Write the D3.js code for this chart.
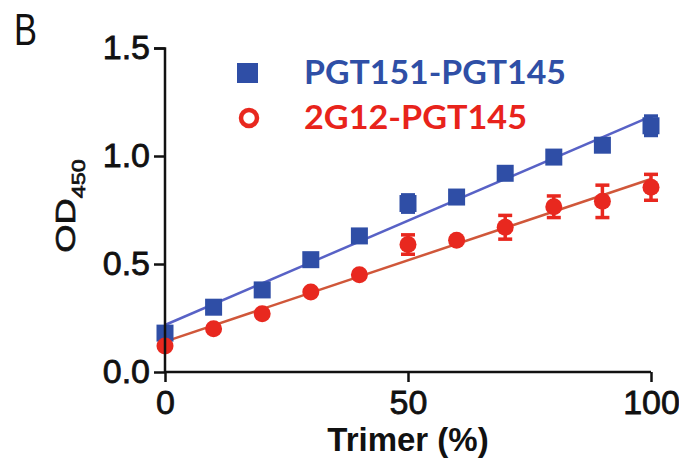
<!doctype html>
<html>
<head>
<meta charset="utf-8">
<style>
body { margin: 0; background: #fff; }
svg { font-family: "Liberation Sans", Arial, sans-serif; }
</style>
<script src="https://cdn.jsdelivr.net/npm/d3@7"></script>
</head>
<body>
<svg width="679" height="459"></svg>
<script>
// values
var trimer = [0, 10, 20, 30, 40, 50, 60, 70, 80, 90, 100];
var pgt151 = [0.18, 0.30, 0.38, 0.52, 0.63, 0.78, 0.81, 0.92, 0.995, 1.05, 1.14];
var pgt151Err = [0.01, 0.01, 0.01, 0.01, 0.01, 0.04, 0.01, 0.01, 0.01, 0.01, 0.045];
var g12 = [0.12, 0.20, 0.27, 0.37, 0.45, 0.59, 0.61, 0.67, 0.765, 0.79, 0.855];
var g12Err = [0.01, 0.01, 0.01, 0.01, 0.01, 0.045, 0.01, 0.055, 0.05, 0.075, 0.06];
var yTicks = [0, 0.5, 1.0, 1.5];
var xTicks = [0, 50, 100];
var seriesNames = ["PGT151-PGT145", "2G12-PGT145"];

var svg = d3.select("svg");

var x = d3.scaleLinear().domain([0, 100]).range([165, 651]);
var y = d3.scaleLinear().domain([0, 1.5]).range([372, 48]);

function fit(xs, ys) {
  var mx = d3.mean(xs), my = d3.mean(ys);
  var num = d3.sum(xs, function(v, i) { return (v - mx) * (ys[i] - my); });
  var den = d3.sum(xs, function(v) { return (v - mx) * (v - mx); });
  var b = num / den;
  return { a: my - b * mx, b: b };
}

var series = [
  { name: seriesNames[0], ys: pgt151, err: pgt151Err, mark: "#2f4ea6", line: "#5862c6", text: "#2f4fa6", shape: "square" },
  { name: seriesNames[1], ys: g12, err: g12Err, mark: "#e8281f", line: "#d0573a", text: "#e8231b", shape: "circle" }
];

// regression lines
series.forEach(function(s) {
  var f = fit(trimer, s.ys);
  svg.append("line")
    .attr("x1", x(0)).attr("y1", y(f.a))
    .attr("x2", x(100)).attr("y2", y(f.a + f.b * 100))
    .attr("stroke", s.line).attr("stroke-width", 2.5);
});

// error bars + markers
series.forEach(function(s) {
  var g = svg.append("g");
  var pts = trimer.map(function(t, i) { return { t: t, v: s.ys[i], e: s.err[i] }; });
  var eb = g.selectAll(".eb").data(pts).enter().append("g")
    .attr("stroke", s.mark).attr("stroke-width", 3.5);
  eb.append("line")
    .attr("x1", function(d) { return x(d.t); }).attr("x2", function(d) { return x(d.t); })
    .attr("y1", function(d) { return y(d.v - d.e); }).attr("y2", function(d) { return y(d.v + d.e); });
  [-1, 1].forEach(function(sg) {
    eb.append("line")
      .attr("x1", function(d) { return x(d.t) - 7; }).attr("x2", function(d) { return x(d.t) + 7; })
      .attr("y1", function(d) { return y(d.v + sg * d.e); }).attr("y2", function(d) { return y(d.v + sg * d.e); });
  });
  if (s.shape == "square") {
    g.selectAll("rect").data(pts).enter().append("rect")
      .attr("x", function(d) { return x(d.t) - 8.5; })
      .attr("y", function(d) { return y(d.v) - 8.5; })
      .attr("width", 17).attr("height", 17)
      .attr("fill", s.mark);
  } else {
    g.selectAll("circle").data(pts).enter().append("circle")
      .attr("cx", function(d) { return x(d.t); })
      .attr("cy", function(d) { return y(d.v); })
      .attr("r", 8.5)
      .attr("fill", s.mark);
  }
});

// axes
var yAxis = svg.append("g").attr("transform", "translate(165,0)")
  .call(d3.axisLeft(y).tickValues(yTicks).tickFormat(d3.format(".1f")).tickSize(11).tickPadding(4));
var xAxis = svg.append("g").attr("transform", "translate(0,372)")
  .call(d3.axisBottom(x).tickValues(xTicks).tickSize(10).tickPadding(8));
[yAxis, xAxis].forEach(function(a) {
  a.select(".domain").attr("stroke", "#111").attr("stroke-width", 2.5);
  a.selectAll(".tick line").attr("stroke", "#111").attr("stroke-width", 2.5);
  a.selectAll("text").attr("fill", "#111").attr("stroke", "#111").attr("stroke-width", 0.8)
    .style("font-size", "34px")
    .style("font-family", "'Liberation Sans', Arial, sans-serif");
});
yAxis.select(".domain").attr("d", "M-11,48.5H0V372");
xAxis.select(".domain").attr("d", "M165,0H651");

// axis titles
svg.append("text")
  .attr("x", 408).attr("y", 451)
  .attr("text-anchor", "middle")
  .style("font-size", "33px").style("font-weight", "bold").attr("fill", "#111")
  .text("Trimer (%)");

var yl = svg.append("text")
  .attr("transform", "translate(75,206) rotate(-90) scale(1.3,1)")
  .attr("text-anchor", "middle")
  .attr("stroke", "#111").attr("stroke-width", 0.7)
  .style("font-size", "28px").attr("fill", "#111");
yl.append("tspan").text("OD");
yl.append("tspan").attr("dy", 10).style("font-size", "18px").text("450");

// panel letter
svg.append("text")
  .attr("x", 14).attr("y", 45)
  .attr("textLength", 23).attr("lengthAdjust", "spacingAndGlyphs")
  .style("font-size", "44px").attr("fill", "#111")
  .text("B");

// legend
var leg = svg.append("g");
leg.append("rect").attr("x", 237).attr("y", 63).attr("width", 21).attr("height", 20)
  .attr("fill", series[0].mark);
leg.append("circle").attr("cx", 249).attr("cy", 118).attr("r", 8)
  .attr("fill", "none").attr("stroke", series[1].mark).attr("stroke-width", 4.5);
var legWidths = [262, 223];
var legBase = [84, 129];
series.forEach(function(s, i) {
  leg.append("text")
    .attr("x", 304).attr("y", legBase[i])
    .attr("textLength", legWidths[i]).attr("lengthAdjust", "spacingAndGlyphs")
    .style("font-family", "Lato, 'Open Sans', sans-serif")
    .style("font-size", "32px").style("font-weight", "bold")
    .attr("fill", s.text)
    .text(s.name);
});
</script>
</body>
</html>
